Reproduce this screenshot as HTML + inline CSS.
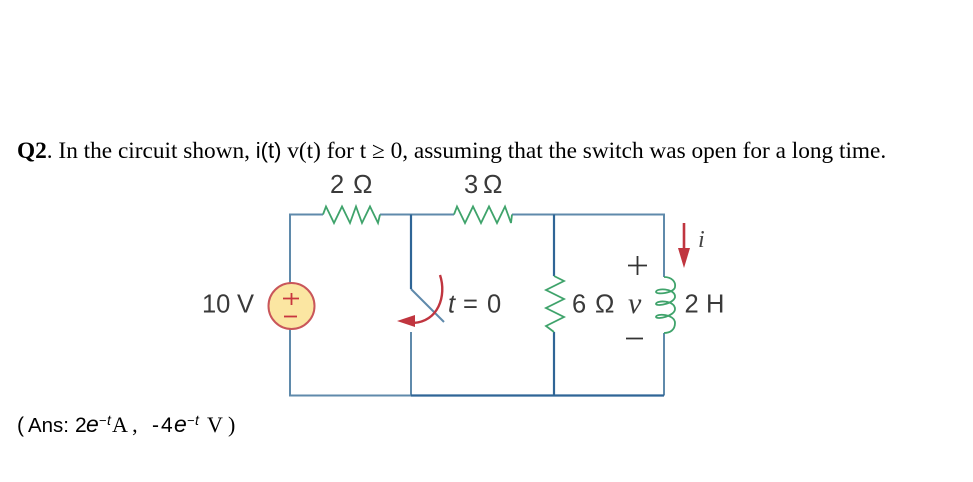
<!DOCTYPE html>
<html>
<head>
<meta charset="utf-8">
<style>
html,body{margin:0;padding:0;background:#fff}
svg{display:block}
.t{font-family:"Liberation Serif",serif;fill:#000}
.s{font-family:"Liberation Sans",sans-serif;fill:#000}
.c{font-family:"Liberation Sans",sans-serif;fill:#3a3a3a}
</style>
</head>
<body>
<svg width="973" height="482" viewBox="0 0 973 482" xmlns="http://www.w3.org/2000/svg">
<text class="t" x="17" y="158" font-size="23.300"><tspan font-weight="bold">Q2</tspan>. In the circuit shown, <tspan class="s" font-size="22">i(t)</tspan> v(t) for t ≥ 0, assuming that the switch was open for a long time.</text>

<g fill="none" stroke="#5f8aab" stroke-width="2">
<path d="M323 214.500H290V395.500H411"/>
<path d="M380 214.500H454"/>
<path d="M512 214.500H664V277"/>
<path d="M664 333V395.500"/>
<path d="M411 332V395.500"/>
<path d="M411 289L444 322"/>
</g>
<g fill="none" stroke="#2f6596" stroke-width="2.200">
<path d="M411 214.500V289"/>
<path d="M554 214.500V276"/>
<path d="M554 332V396"/>
<path d="M411 395.500H664"/>
</g>

<g fill="none" stroke="#3fa36b" stroke-width="1.800" stroke-linejoin="miter">
<path d="M323 214.500L326 206.500L334 223L342 206.500L350 223L356 206.500L362 223L370 206.500L378 223L380 214.500"/>
<path d="M454 214.500L457 206.500L465 223L473 206.500L481 223L489 206.500L497 223L505 206.500L511 223L512 214.500"/>
<path d="M554 276L564 281L546 290L564 299L546 308L564 317L546 326L554 332"/>
<path d="M664 277C672 277 676 282 675 287C674 293 657 295 656 292C656 288 674 288 675 296C676 303 657 307 656 304C656 300 675 300 675 309C675 316 657 320 656 317C656 313 675 314 675 323C675 330 670 333 664 333"/>
</g>

<circle cx="291.500" cy="306" r="23" fill="#fbe6a2" stroke="#c9565a" stroke-width="2"/>
<g stroke="#c8363f" stroke-width="1.800" fill="none">
<path d="M283 298.500H299M291.500 293V305"/>
<path d="M284 316.500H297"/>
</g>

<path d="M440 275C447 296 438 322 413 323" fill="none" stroke="#c0353f" stroke-width="2.400"/>
<path d="M397 321L415 315L415 327Z" fill="#c0353f"/>

<path d="M684 223V250" stroke="#c0353f" stroke-width="2.600" fill="none"/>
<path d="M678 248H690L684 268Z" fill="#c0353f"/>

<text class="c" x="330" y="193" font-size="25.500">2</text><text class="c" x="353" y="193" font-size="26">Ω</text>
<text class="c" x="464" y="193" font-size="25.500">3</text><text class="c" x="483" y="193" font-size="26">Ω</text>
<text class="c" x="202" y="312.500" font-size="25.500">10</text><text class="c" x="237" y="312.500" font-size="25.500">V</text>
<text class="c" x="448" y="312.500" font-size="25.500" font-style="italic">t</text><text class="c" x="463" y="312.500" font-size="25.500">=</text><text class="c" x="487" y="312.500" font-size="25.500">0</text>
<text class="c" x="572" y="312.500" font-size="25.500">6</text><text class="c" x="595" y="312.500" font-size="26">Ω</text>
<text class="c" x="684.500" y="312.500" font-size="25.500">2</text><text class="c" x="706" y="312.500" font-size="25.500">H</text>
<text x="628" y="313" font-size="30" font-style="italic" font-family="Liberation Serif,serif" fill="#3a3a3a">v</text>
<text x="698" y="247" font-size="24" font-style="italic" font-family="Liberation Serif,serif" fill="#444">i</text>
<path d="M628 265.500H647M637.500 256V275" stroke="#333" stroke-width="1.800" fill="none"/>
<path d="M626 338.500H643" stroke="#333" stroke-width="1.800" fill="none"/>

<text x="17" y="432" font-size="21" class="s">(</text>
<text x="28" y="432" font-size="20.500" class="s" textLength="41" lengthAdjust="spacingAndGlyphs">Ans:</text>
<text x="75" y="432" font-size="21" class="s">2</text>
<text x="86" y="432" font-size="23" class="s" font-style="italic">e</text>
<text x="99" y="425" font-size="13" class="s">−</text>
<text x="107" y="425" font-size="14" class="s" font-style="italic">t</text>
<text x="112" y="432" font-size="22" class="t">A ,</text>
<text x="152" y="432" font-size="21" class="s">-</text>
<text x="161" y="432" font-size="21" class="s">4</text>
<text x="174" y="432" font-size="23" class="s" font-style="italic">e</text>
<text x="187" y="425" font-size="13" class="s">−</text>
<text x="195" y="425" font-size="14" class="s" font-style="italic">t</text>
<text x="207" y="432" font-size="22" class="t">V )</text>
</svg>
</body>
</html>
